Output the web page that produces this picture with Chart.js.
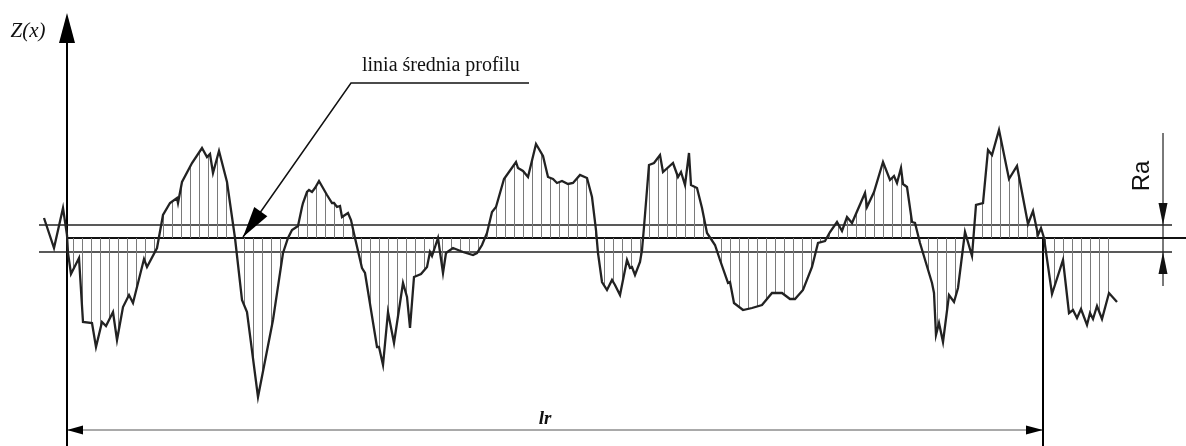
<!DOCTYPE html>
<html><head><meta charset="utf-8">
<script src="https://cdn.jsdelivr.net/npm/chart.js@4.4.1/dist/chart.umd.min.js"></script>
<style>html,body{margin:0;padding:0;background:#fff;overflow:hidden}canvas{display:block}</style>
</head><body>
<canvas id="c" width="1186" height="446"></canvas>
<script>
// Profile: x = position along the sampling length, z = deviation from the mean line
const preX = [-23, -13, -4, 0];
const preZ = [20, -10, 30, 3];
const profX = [0,1,4,12,16,25,29,35,39,46,
  50,56,62,66,77,80,90,96,103,110,
  111,115,125,135,140,143,146,152,160,168,
  175,180,191,206,216,221,225,231,235,236,
  240,242,245,248,252,260,265,267,270,273,
  275,281,284,288,295,298,304,310,312,316,
  321,327,336,340,343,347,354,360,363,365,
  371,376,379,386,396,406,410,415,420,425,
  429,437,449,451,456,461,469,476,481,486,
  490,495,501,506,513,520,525,529,531,535,
  540,545,548,553,560,563,565,568,573,575,
  577,582,587,593,596,606,611,614,618,622,
  624,630,635,640,648,653,661,663,667,676,
  685,695,705,715,723,728,736,745,751,758,
  763,770,775,780,785,798,800,807,816,823,
  827,830,834,836,840,845,848,853,865,867,
  869,872,876,882,887,891,898,905,909,916,
  921,925,932,942,950,961,966,971,974,977,
  985,996,1002,1006,1010,1014,1020,1023,1026,1030,
  1035,1042,1050];
const profZ = [3,-15,-36,-20,-84,-85,-109,-84,-88,-74,
  -102,-69,-57,-65,-21,-29,-10,23,35,40,
  35,56,75,90,81,84,65,87,56,0,
  -62,-74,-159,-82,-15,0,8,12,31,35,
  46,48,46,50,57,43,35,35,31,32,
  21,25,18,0,-30,-35,-72,-109,-109,-127,
  -74,-105,-45,-59,-90,-39,-36,-29,-14,-18,
  0,-35,-15,-10,-14,-17,-15,-7,5,26,
  31,59,76,70,67,61,94,82,61,59,
  55,57,54,55,63,60,41,8,-15,-44,
  -52,-42,-47,-57,-22,-30,-29,-37,-24,-12,
  11,73,75,83,66,75,61,66,53,85,
  53,50,30,5,-7,-22,-45,-44,-65,-72,
  -70,-67,-55,-55,-61,-61,-52,-29,-5,-3,
  6,16,7,21,15,45,31,46,76,58,
  62,55,70,54,51,16,15,-5,-45,-55,
  -97,-85,-104,-57,-64,-50,6,-18,33,35,
  88,83,108,59,72,14,27,3,10,0,
  -56,-22,-75,-72,-80,-71,-87,-75,-81,-68,
  -81,-55,-64];
const meanX = [0, 1119];
const bandX = [-28, 1105];
const raUpper = 13;
const raLower = -14;
const axisZ = [-208, 200];
const lrEndX = 976;
const lrZ = -192;
const raX = 1096;
const raZ = [105, -48];
const leaderX = [462, 284, 176];
const leaderZ = [155, 155, 1];
const txtZx = 'Z(x)', txtLeader = 'linia średnia profilu', txtLr = 'lr', txtRa = 'Ra';

function pts(xs, zs) { return xs.map((v, i) => ({ x: v, y: zs[i] })); }

// hatch pattern (vertical lines)
const tile = document.createElement('canvas');
tile.width = 9; tile.height = 4;
const tctx = tile.getContext('2d');
tctx.fillStyle = '#7a7a7a';
tctx.fillRect(1, 0, 1, 4);
const hatch = document.getElementById('c').getContext('2d').createPattern(tile, 'repeat');

function lineDs(data, color, width, order) {
  return { data, borderColor: color, borderWidth: width, pointRadius: 0, fill: false, tension: 0, order };
}

const annot = {
  id: 'annot',
  afterDatasetsDraw(chart) {
    const { ctx } = chart;
    const sx = chart.scales.x, sy = chart.scales.y;
    const P = (a, b) => [sx.getPixelForValue(a), sy.getPixelForValue(b)];
    function arrow(from, tip, len, hw, col) {
      const dx = tip[0] - from[0], dy = tip[1] - from[1];
      const d = Math.hypot(dx, dy), ux = dx / d, uy = dy / d;
      const bx = tip[0] - ux * len, by = tip[1] - uy * len;
      ctx.fillStyle = col;
      ctx.beginPath();
      ctx.moveTo(tip[0], tip[1]);
      ctx.lineTo(bx - uy * hw, by + ux * hw);
      ctx.lineTo(bx + uy * hw, by - ux * hw);
      ctx.closePath();
      ctx.fill();
    }
    ctx.save();
    arrow(P(0, 0), P(0, 225), 30, 8, '#000');
    arrow(P(lrEndX, lrZ), P(0, lrZ), 16, 4.5, '#000');
    arrow(P(0, lrZ), P(lrEndX, lrZ), 17, 4.5, '#000');
    arrow(P(raX, raZ[0]), P(raX, raUpper), 22, 4.5, '#111');
    arrow(P(raX, raZ[1]), P(raX, raLower), 22, 4.5, '#111');
    arrow(P(leaderX[1], leaderZ[1]), P(leaderX[2], leaderZ[2]), 31, 8, '#000');
    ctx.fillStyle = '#111';
    ctx.font = 'italic 21px "Liberation Serif"';
    ctx.textAlign = 'center'; ctx.textBaseline = 'middle';
    let p = P(-39, 207);
    ctx.fillText(txtZx, p[0], p[1]);
    ctx.font = '20px "Liberation Serif"';
    ctx.textAlign = 'left'; ctx.textBaseline = 'alphabetic';
    p = P(295, 167);
    ctx.fillText(txtLeader, p[0], p[1]);
    ctx.font = 'italic bold 19px "Liberation Serif"';
    ctx.textAlign = 'center';
    p = P(478, -186);
    ctx.fillText(txtLr, p[0], p[1]);
    ctx.font = '24px "Liberation Sans"';
    p = P(1075, 62);
    ctx.translate(p[0], p[1]);
    ctx.rotate(-Math.PI / 2);
    ctx.textBaseline = 'middle';
    ctx.fillText(txtRa, 0, 0);
    ctx.restore();
  }
};

new Chart(document.getElementById('c'), {
  type: 'line',
  data: {
    datasets: [
      Object.assign(lineDs(pts(profX, profZ), '#222', 2.3, 0), { fill: { value: 0 }, backgroundColor: hatch }),
      lineDs(pts(preX, preZ), '#222', 2.3, 0),
      lineDs(pts(meanX, [0, 0]), '#111', 2, 1),
      lineDs(pts(bandX, [raUpper, raUpper]), '#222', 1.5, 1),
      lineDs(pts(bandX, [raLower, raLower]), '#222', 1.5, 1),
      lineDs(pts([0, 0], axisZ), '#000', 2, 1),
      lineDs(pts([lrEndX, lrEndX], [0, -208]), '#000', 2, 1),
      lineDs(pts([0, lrEndX], [lrZ, lrZ]), '#555', 1, 1),
      lineDs(pts([raX, raX], raZ), '#666', 1, 1),
      lineDs(pts(leaderX, leaderZ), '#111', 1.5, 1)
    ]
  },
  options: {
    responsive: false,
    animation: false,
    events: [],
    layout: { padding: 0, autoPadding: false },
    scales: {
      x: { type: 'linear', min: -67, max: 1119, display: false },
      y: { type: 'linear', min: -208, max: 238, display: false }
    },
    plugins: { legend: { display: false }, tooltip: { enabled: false } }
  },
  plugins: [annot]
});
</script>
</body></html>
